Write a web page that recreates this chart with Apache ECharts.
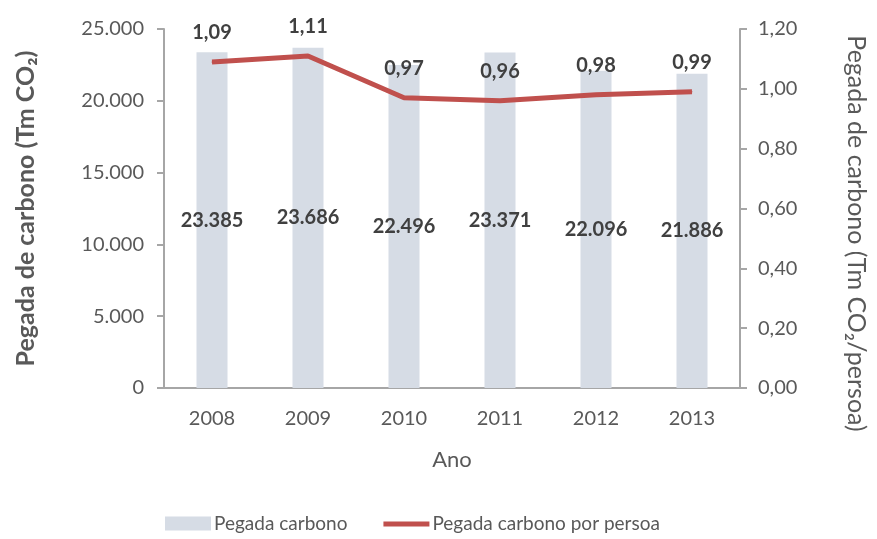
<!DOCTYPE html>
<html>
<head>
<meta charset="utf-8">
<script src="https://cdn.jsdelivr.net/npm/echarts@6/dist/echarts.min.js"></script>
<style>
  html, body { margin: 0; padding: 0; background: #fff; }
  #chart { width: 877px; height: 539px; }
</style>
</head>
<body>
<div id="chart"></div>
<script>
const anos = ['2008', '2009', '2010', '2011', '2012', '2013'];
const pegada = [23385, 23686, 22496, 23371, 22096, 21886];
const pegadaPersoa = [1.09, 1.11, 0.97, 0.96, 0.98, 0.99];

const fontName = 'Lato, "Open Sans", sans-serif';
const grey = '#595959';

function miles(v) {
  return String(v).replace(/\B(?=(\d{3})+(?!\d))/g, '.');
}

let chart = echarts.init(document.getElementById('chart'), null, { renderer: 'canvas' });

let option = {
  animation: false,
  textStyle: { fontFamily: fontName },
  grid: { left: 164, right: 132, top: 29, bottom: 151 },
  legend: {
    bottom: 1,
    left: 160,
    itemGap: 36,
    itemWidth: 46,
    itemHeight: 14,
    textStyle: { fontSize: 19, color: grey, fontFamily: fontName, padding: [0, 0, 0, -2] },
    data: [
      { name: 'Pegada carbono', icon: 'rect' },
      { name: 'Pegada carbono por persoa', icon: 'path://M0,0 M0,5 L46,5 L46,10 L0,10 Z M46,14' }
    ]
  },
  xAxis: {
    type: 'category',
    data: anos,
    name: 'Ano',
    nameLocation: 'middle',
    nameGap: 61,
    nameTextStyle: { fontSize: 22, color: grey },
    axisLine: { lineStyle: { color: '#a6a6a6', width: 2 } },
    axisTick: { show: false },
    axisLabel: { fontSize: 20, color: grey, margin: 21 }
  },
  yAxis: [
    {
      type: 'value',
      min: 0,
      max: 25000,
      interval: 5000,
      name: 'Pegada de carbono (Tm CO₂)',
      nameLocation: 'middle',
      nameGap: 126,
      nameTextStyle: { fontSize: 25, fontWeight: 'bold', color: grey },
      axisLine: { show: true, lineStyle: { color: '#a6a6a6', width: 2 } },
      axisTick: { show: true, length: 7, lineStyle: { color: '#a6a6a6', width: 2 } },
      axisLabel: { fontSize: 20, color: grey, margin: 20, formatter: miles },
      splitLine: { show: false }
    },
    {
      type: 'value',
      min: 0,
      max: 1.2,
      interval: 0.2,
      name: 'Pegada de carbono (Tm CO₂/persoa)',
      nameLocation: 'middle',
      nameGap: 104,
      nameRotate: -90,
      nameTextStyle: { fontSize: 25, color: grey, padding: [0, 0, 0, 50] },
      axisLine: { show: true, lineStyle: { color: '#a6a6a6', width: 2 } },
      axisTick: { show: true, length: 7, lineStyle: { color: '#a6a6a6', width: 2 } },
      axisLabel: {
        fontSize: 20, color: grey, margin: 18,
        formatter: (v) => v.toFixed(2).replace('.', ',')
      },
      splitLine: { show: false }
    }
  ],
  series: [
    {
      name: 'Pegada carbono',
      type: 'bar',
      data: pegada,
      barWidth: 31,
      itemStyle: { color: '#d6dce5' },
      label: {
        show: true,
        position: 'inside',
        fontSize: 20,
        fontWeight: 'bold',
        color: '#404040',
        formatter: (p) => miles(p.value)
      }
    },
    {
      name: 'Pegada carbono por persoa',
      type: 'line',
      yAxisIndex: 1,
      data: pegadaPersoa,
      symbol: 'circle',
      symbolSize: 1,
      lineStyle: { color: '#c0504d', width: 5 },
      itemStyle: { color: '#c0504d' },
      label: {
        show: true,
        position: 'top',
        distance: 19,
        fontSize: 20,
        fontWeight: 'bold',
        color: '#404040',
        formatter: (p) => p.value.toFixed(2).replace('.', ',')
      }
    }
  ]
};

chart.setOption(option);
window.addEventListener('resize', chart.resize);
</script>
</body>
</html>
